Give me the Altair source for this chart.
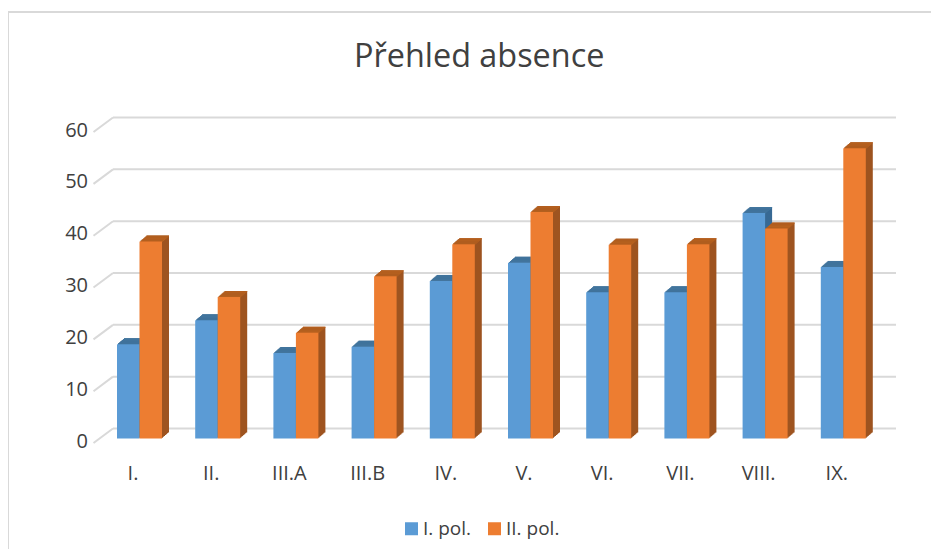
import altair as alt
import pandas as pd

categories = ["I.", "II.", "III.A", "III.B", "IV.", "V.", "VI.", "VII.", "VIII.", "IX."]
series_names = ["I. pol.", "II. pol."]
pol1 = [18.2, 22.8, 16.5, 17.7, 30.4, 33.9, 28.2, 28.2, 43.5, 33.1]
pol2 = [38.0, 27.3, 20.4, 31.3, 37.5, 43.7, 37.4, 37.5, 40.5, 56.0]
ticks = [0, 10, 20, 30, 40, 50, 60]
title_text = "Přehled absence"

FONT = "Open Sans"
TXT = "#404040"
GRID = "#d9d9d9"

BAR = 22.5 / 78.2
rows = []
for i, c in enumerate(categories):
    rows.append({"cat": c, "series": series_names[0], "val": pol1[i], "x0": i - BAR, "x1": float(i)})
    rows.append({"cat": c, "series": series_names[1], "val": pol2[i], "x0": float(i), "x1": i + BAR})
df = pd.DataFrame(rows)
df["base"] = 0
df["strip"] = df["val"] - 0.22
tick_df = pd.DataFrame({"v": ticks})
cat_df = pd.DataFrame({"cat": categories, "i": range(len(categories))})

yscale = alt.Scale(domain=[-21.32, 82.29], range=[537, 0], nice=False, zero=False)
xscale = alt.Scale(domain=[0, 9], range=[131.5, 835.3], nice=False, zero=False)

X0 = alt.X("x0:Q", scale=xscale, axis=None, title=None)
X1 = alt.X2("x1:Q")
VAL = alt.Y("val:Q", scale=yscale, axis=None, title=None)
is_blue = alt.datum.series == series_names[0]


def col(a, b):
    return alt.condition(is_blue, alt.value(a), alt.value(b))


layers = []

# border of the chart frame
layers.append(alt.Chart(tick_df.head(1)).mark_rule(color=GRID, size=2).encode(
    x=alt.value(0), y=alt.value(0), y2=alt.value(537)))
layers.append(alt.Chart(tick_df.head(1)).mark_rule(color=GRID, size=2).encode(
    x=alt.value(0), x2=alt.value(923), y=alt.value(0)))

# back wall gridlines and slanted floor/side lines
layers.append(alt.Chart(tick_df).transform_calculate(w="datum.v + 1.93").mark_rule(color=GRID, size=2).encode(
    x=alt.value(105), x2=alt.value(888), y=alt.Y("w:Q", scale=yscale, axis=None)))
layers.append(alt.Chart(tick_df).transform_calculate(w="datum.v + 1.93", f="datum.v - 0.87").mark_rule(color=GRID, size=2).encode(
    x=alt.value(85.5), x2=alt.value(105), y=alt.Y("f:Q", scale=yscale, axis=None), y2="w:Q"))

# oblique depth of the bars
DEPTH = 7
for k in range(DEPTH, 0, -1):
    dy = -k * 6 / DEPTH
    off = dict(xOffset=k, x2Offset=k, yOffset=dy, y2Offset=dy)
    layers.append(alt.Chart(df).mark_bar(**off).encode(
        x=X0, x2=X1, y=VAL, y2="base:Q", color=col("#386a94", "#9e5420")))
    layers.append(alt.Chart(df).mark_bar(**off).encode(
        x=X0, x2=X1, y=VAL, y2="strip:Q", color=col("#44779f", "#b8621f")))

# front faces
layers.append(alt.Chart(df).mark_bar().encode(
    x=X0, x2=X1, y=VAL, y2="base:Q",
    color=alt.Color("series:N", scale=alt.Scale(domain=series_names, range=["#5b9bd5", "#ed7d31"]),
                    legend=alt.Legend(title=None, orient="none", legendX=394, legendY=507,
                                      direction="horizontal", symbolType="square", symbolSize=169,
                                      symbolStrokeWidth=0, labelFont=FONT, labelFontSize=19,
                                      labelColor=TXT, columnPadding=13, labelOffset=2))))

# value labels
layers.append(alt.Chart(tick_df).mark_text(font=FONT, fontSize=20, color=TXT, align="right", baseline="middle", yOffset=3).encode(
    x=alt.value(80), y=alt.Y("v:Q", scale=yscale, axis=None), text=alt.Text("v:Q")))

# category labels
layers.append(alt.Chart(cat_df).mark_text(font=FONT, fontSize=20, color=TXT, align="center", baseline="middle", xOffset=-6.5).encode(
    x=alt.X("i:Q", scale=xscale, axis=None), y=alt.value(462), text="cat:N"))

chart = alt.layer(*layers).properties(
    width=923, height=537,
    padding={"left": 0, "top": 4, "right": 0, "bottom": 0},
    autosize=alt.AutoSizeParams(type="none"),
    title=alt.TitleParams(title_text, font=FONT, fontSize=32.4, fontWeight="normal", color=TXT,
                          anchor="start", frame="group", offset=0, dx=346, dy=88, baseline="alphabetic"),
).configure_view(stroke=None)

chart.save("out.html", embed_options={"renderer": "svg", "actions": False})
